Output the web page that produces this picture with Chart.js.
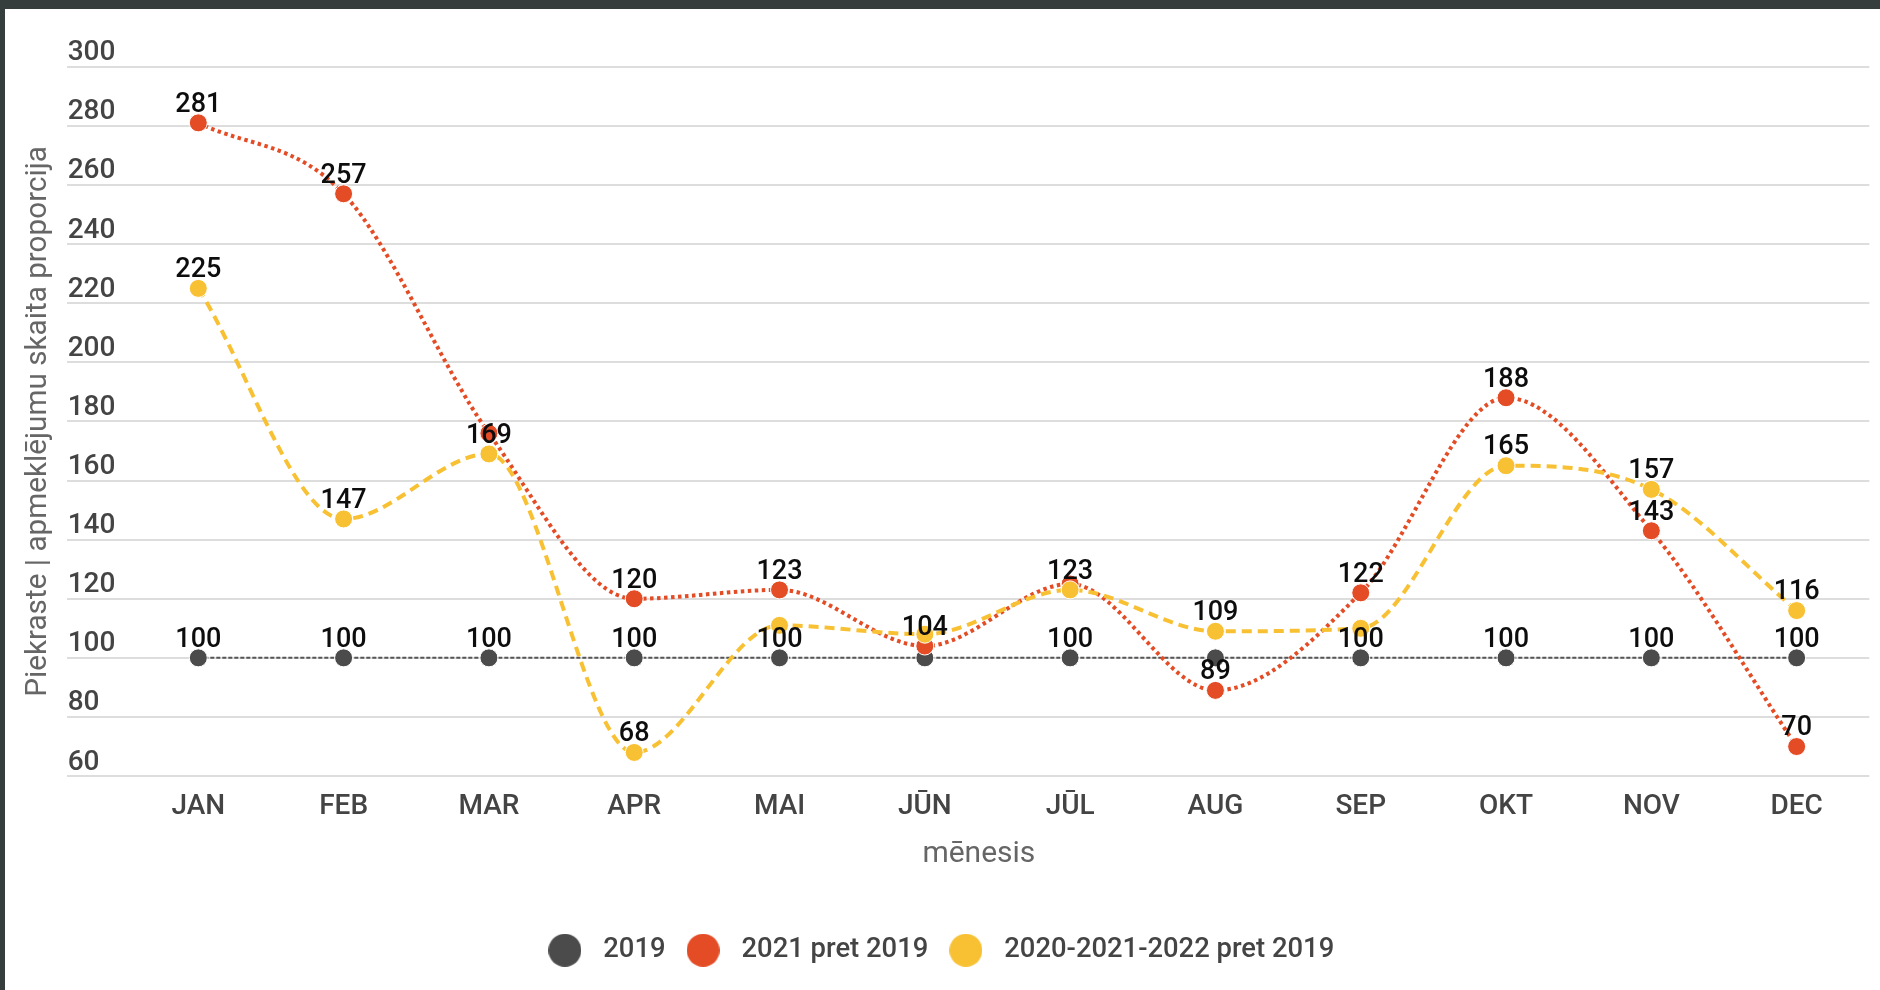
<!DOCTYPE html>
<html>
<head>
<meta charset="utf-8">
<script src="https://cdn.jsdelivr.net/npm/chart.js@4.4.1/dist/chart.umd.min.js"></script>
<style>
  html, body { margin: 0; padding: 0; width: 1880px; height: 990px; background: #353d3d; overflow: hidden; }
  #wrap { position: absolute; left: 5px; top: 9px; width: 1875px; height: 981px; background: #ffffff; }
  canvas { display: block; }
</style>
</head>
<body>
<div id="wrap"><canvas id="c" width="1875" height="981"></canvas></div>
<script>
// ---- data ----
const categories = ['JAN', 'FEB', 'MAR', 'APR', 'MAI', 'JŪN', 'JŪL', 'AUG', 'SEP', 'OKT', 'NOV', 'DEC'];
const series2019 = [100, 100, 100, 100, 100, 100, 100, 100, 100, 100, 100, 100];
const series2021 = [281, 257, 176, 120, 123, 104, 125, 89, 122, 188, 143, 70];
const series202022 = [225, 147, 169, 68, 111, 108, 123, 109, 110, 165, 157, 116];
const seriesNames = ['2019', '2021 pret 2019', '2020-2021-2022 pret 2019'];
// value labels that the source chart does not show (overlapping annotations)
const hidden2019 = ['JŪN', 'AUG'];
const hidden2021 = ['MAR', 'JŪL'];
const hidden202022 = ['MAI', 'JŪN', 'SEP'];
const yMin = 60, yMax = 300, yStep = 20;
const yTitle = 'Piekraste | apmeklējumu skaita proporcija';
const xTitle = 'mēnesis';

const FONT = 'Roboto';
const cGray = '#4b4b4b', cRed = '#e44c26', cYellow = '#f8c134';

function legendDot(color) {
  const d = 33;
  const cv = document.createElement('canvas');
  cv.width = d; cv.height = d;
  const g = cv.getContext('2d');
  g.fillStyle = color;
  g.beginPath(); g.arc(d / 2, d / 2, d / 2, 0, Math.PI * 2); g.fill();
  return cv;
}

const valueLabels = {
  id: 'valueLabels',
  afterDatasetsDraw(chart) {
    const ctx = chart.ctx;
    ctx.save();
    ctx.font = '500 27px ' + FONT;
    ctx.fillStyle = '#0d0d0d';
    ctx.textAlign = 'center';
    ctx.textBaseline = 'middle';
    chart.data.datasets.forEach((ds, i) => {
      const meta = chart.getDatasetMeta(i);
      meta.data.forEach((pt, j) => {
        if (ds.hiddenLabels.includes(categories[j])) return;
        ctx.fillText(String(ds.data[j]), pt.x, pt.y - 18);
      });
    });
    ctx.restore();
  }
};

const chart = new Chart(document.getElementById('c'), {
  type: 'line',
  data: {
    labels: categories,
    datasets: [
      {
        label: seriesNames[0], data: series2019, hiddenLabels: hidden2019, order: 3,
        borderColor: '#555555', borderWidth: 2, borderDash: [4, 2],
        backgroundColor: cGray, pointBackgroundColor: cGray, pointBorderColor: '#ffffff',
        pointBorderWidth: 1, pointRadius: 9, pointHoverRadius: 9,
        cubicInterpolationMode: 'monotone', fill: false
      },
      {
        label: seriesNames[1], data: series2021, hiddenLabels: hidden2021, order: 2,
        borderColor: cRed, borderWidth: 4, borderDash: [3.5, 3.5],
        backgroundColor: cRed, pointBackgroundColor: cRed, pointBorderColor: '#ffffff',
        pointBorderWidth: 1, pointRadius: 9, pointHoverRadius: 9,
        cubicInterpolationMode: 'monotone', fill: false
      },
      {
        label: seriesNames[2], data: series202022, hiddenLabels: hidden202022, order: 1,
        borderColor: cYellow, borderWidth: 4, borderDash: [10, 6],
        backgroundColor: cYellow, pointBackgroundColor: cYellow, pointBorderColor: '#ffffff',
        pointBorderWidth: 1, pointRadius: 9, pointHoverRadius: 9,
        cubicInterpolationMode: 'monotone', fill: false
      }
    ]
  },
  options: {
    responsive: false,
    animation: false,
    devicePixelRatio: 1,
    layout: { padding: { left: 0, right: 10.7, top: 57.7, bottom: 16 } },
    plugins: {
      tooltip: { enabled: false },
      legend: {
        position: 'bottom',
        labels: {
          font: { family: FONT, size: 27.4, weight: '500' },
          color: '#444444',
          usePointStyle: true,
          pointStyleWidth: 49.5,
          boxHeight: 23,
          padding: 12.8,
          sort: (a, b) => a.datasetIndex - b.datasetIndex,
          generateLabels(chart) {
            const items = Chart.defaults.plugins.legend.labels.generateLabels(chart);
            const cols = [cGray, cRed, cYellow];
            items.forEach(it => { it.pointStyle = legendDot(cols[it.datasetIndex]); it.lineWidth = 0; });
            return items;
          }
        }
      }
    },
    scales: {
      x: {
        offset: true,
        grid: { display: false, drawTicks: false },
        border: { display: false },
        ticks: { font: { family: FONT, size: 28, weight: '500' }, color: '#444444', padding: 14, maxRotation: 0, autoSkip: false },
        title: { display: true, text: xTitle + '     ', font: { family: FONT, size: 30 }, color: '#666666', padding: { top: 0, bottom: 51.4 } },
        afterFit(s) { s.height = 147.7; }
      },
      y: {
        min: yMin, max: yMax,
        grid: { color: '#dddddd', lineWidth: 2, drawTicks: true, tickLength: 58.6, tickColor: '#dddddd' },
        border: { display: false },
        ticks: {
          stepSize: yStep, mirror: true, crossAlign: 'near', padding: -58, labelOffset: -13.5,
          font: { family: FONT, size: 28, weight: '500' }, color: '#444444'
        },
        title: { display: true, text: yTitle, font: { family: FONT, size: 29.7 }, color: '#666666', padding: { top: 15.5, bottom: 0 } },
        afterFit(s) { s.width = 120.65; }
      }
    }
  },
  plugins: [valueLabels]
});
</script>
</body>
</html>
